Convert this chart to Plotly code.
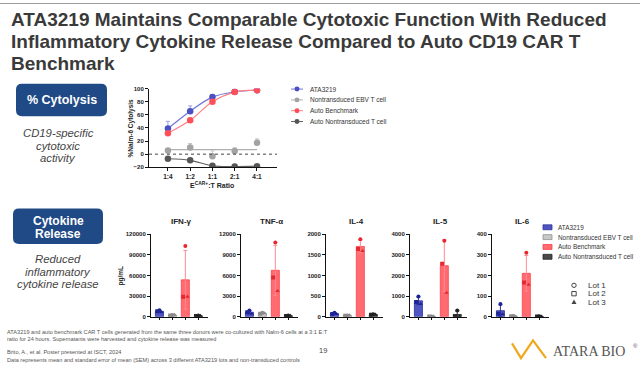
import plotly.graph_objects as go
import numpy as np

W, H = 640, 368
def px(x): return x / W
def py(y): return 1 - y / H

FONT = "Liberation Sans, Arial, sans-serif"

# ---------------- data ----------------
ratios = ["1:4", "1:2", "1:1", "2:1", "4:1"]
ata_cyto = [39, 65.6, 87, 95, 97.5]
ata_err = [11, 8, 4, 1, 1]
ebv_cyto = [5.6, 10.3, -3, 4.7, 17.3]
ebv_err = [3, 6, 8, 5, 6]
bench_cyto = [32, 51.6, 80, 94.7, 97.5]
bench_err = [0, 0, 0, 1, 1]
nt_cyto = [-7, -9.4, -17.8, -18.8, -18.3]
nt_err = [0, 0, 0, 0, 0]

groups = ["ATA3219", "Nontransduced EBV T cell", "Auto Benchmark", "Auto Nontransduced T cell"]
cytokines = ["IFN-γ", "TNF-α", "IL-4", "IL-5", "IL-6"]
lots = ["Lot 1", "Lot 2", "Lot 3"]
ifn_lots = [[9500, 8000, 6500], [2500, 2000, 3000], [103000, 29000, 29000], [1800, 1200, 1500]]
tnf_lots = [[900, 650, 450], [600, 450, 500], [10800, 5700, 3760], [200, 100, 150]]
il4_lots = [[100, 70, 65], [30, 25, 35], [1880, 1640, 1590], [60, 50, 55]]
il5_lots = [[980, 720, 620], [20, 15, 25], [3680, 2570, 1170], [310, 20, 10]]
il6_lots = [[62, 15, 12], [4, 3, 2], [310, 166, 155], [3, 2, 2]]
cyto_data = [ifn_lots, tnf_lots, il4_lots, il5_lots, il6_lots]
y_max = [120000, 12000, 2000, 4000, 400]
y_step = [30000, 3000, 500, 1000, 100]

# ---------------- styles ----------------
line_cols = ["#7074d8", "#b0b0b0", "#ff8087", "#606060"]
mark_cols = ["#4b4fc4", "#a3a3a3", "#ff4f58", "#555555"]
err_cols = ["#9a9de6", "#c4c4c4", "#ffa0a5", "#888888"]
bar_fill = ["#4f56c2", "#c8c8c8", "#ff6b70", "#4a4a4a"]
bar_line = ["#2b309a", "#909090", "#ff4048", "#222222"]
bar_err = ["#2b309a", "#a0a0a0", "#ff8a90", "#333333"]
pt_cols = ["#1d2596", "#8a8a8a", "#e8262f", "#222222"]
lot_symbols = ["circle", "square", "triangle-up"]
lot_offsets = [0.0, -0.17, 0.17]

fig = go.Figure()

# ---------------- cytolysis chart ----------------
xs = list(range(len(ratios)))
series = [ata_cyto, ebv_cyto, bench_cyto, nt_cyto]
errs = [ata_err, ebv_err, bench_err, nt_err]
for i, (vals, er) in enumerate(zip(series, errs)):
    if i == 1:
        m = float(np.mean(vals))
        fig.add_trace(go.Scatter(x=[xs[0], xs[-1]], y=[m, m], mode="lines",
                                 line=dict(color=line_cols[i], width=1.2),
                                 xaxis="x", yaxis="y", showlegend=False))
    else:
        fig.add_trace(go.Scatter(x=xs, y=vals, mode="lines",
                                 line=dict(color=line_cols[i], width=1.2, shape="spline"),
                                 xaxis="x", yaxis="y", showlegend=False))
for i, (vals, er) in enumerate(zip(series, errs)):
    fig.add_trace(go.Scatter(x=xs, y=vals, mode="markers",
                             marker=dict(color=mark_cols[i], size=6.5),
                             error_y=dict(type="data", symmetric=False, array=er,
                                          arrayminus=[0] * len(er), color=err_cols[i],
                                          thickness=1, width=2),
                             xaxis="x", yaxis="y", showlegend=False))

axis_common = dict(showgrid=False, zeroline=False, showline=True, linecolor="#111",
                   linewidth=1, ticks="outside", ticklen=3, tickwidth=1, tickcolor="#111")

layout = dict(
    width=W, height=H, margin=dict(l=0, r=0, t=0, b=0),
    paper_bgcolor="white", plot_bgcolor="white", showlegend=False,
    font=dict(family=FONT, color="#222"),
    xaxis=dict(domain=[px(149), px(277)], range=[-0.85, 4.9], tickvals=xs, ticktext=ratios,
               tickfont=dict(size=6.5, family=FONT, weight="bold", color="#222"),
               anchor="y", **axis_common),
    yaxis=dict(domain=[py(167), py(87)], range=[-20, 100], tickvals=list(range(-20, 101, 20)),
               tickfont=dict(size=6, family=FONT, weight="bold", color="#222"),
               anchor="x", **axis_common),
)

# ---------------- cytokine charts ----------------
x0s = [151, 241, 326, 410, 492]
cat_x = np.arange(len(groups))
for k, (name, data) in enumerate(zip(cytokines, cyto_data)):
    n = k + 2
    xa, ya = f"x{n}", f"y{n}"
    means = [float(np.mean(g)) for g in data]
    sds = [float(np.std(g, ddof=1)) for g in data]
    fig.add_trace(go.Bar(x=cat_x, y=means, width=0.62,
                         marker=dict(color=bar_fill, line=dict(color=bar_line, width=0.8)),
                         xaxis=xa, yaxis=ya, showlegend=False))
    for g in range(len(groups)):
        fig.add_trace(go.Scatter(x=[cat_x[g]], y=[means[g]], mode="markers",
                                 marker=dict(size=1, color="rgba(0,0,0,0)"),
                                 error_y=dict(type="data", array=[sds[g]], color=bar_err[g],
                                              thickness=1, width=2),
                                 xaxis=xa, yaxis=ya, showlegend=False))
    for li in range(len(lots)):
        fig.add_trace(go.Scatter(
            x=[cat_x[g] + lot_offsets[li] for g in range(len(groups))],
            y=[data[g][li] for g in range(len(groups))],
            mode="markers",
            marker=dict(symbol=lot_symbols[li], size=4, color=pt_cols),
            xaxis=xa, yaxis=ya, showlegend=False))
    layout[f"xaxis{n}"] = dict(domain=[px(x0s[k]), px(x0s[k] + 57)], range=[-0.65, 3.75],
                              tickvals=list(cat_x), showticklabels=False, anchor=ya,
                              **{**axis_common, "ticklen": 2})
    layout[f"yaxis{n}"] = dict(domain=[py(319), py(235)], range=[0, y_max[k]],
                              tickvals=list(range(0, y_max[k] + 1, y_step[k])), tickformat="d",
                              tickfont=dict(size=6, family=FONT, weight="bold", color="#222"),
                              anchor=xa, **axis_common)

fig.update_layout(**layout)

# ---------------- decorations ----------------
shapes = []
ann = []

def roundrect(x0, y0, x1, y1, r, color):
    rx, ry = r / W, r / H
    X0, X1, Y0, Y1 = px(x0), px(x1), py(y1), py(y0)
    path = (f"M {X0+rx},{Y0} L {X1-rx},{Y0} Q {X1},{Y0} {X1},{Y0+ry} "
            f"L {X1},{Y1-ry} Q {X1},{Y1} {X1-rx},{Y1} L {X0+rx},{Y1} "
            f"Q {X0},{Y1} {X0},{Y1-ry} L {X0},{Y0+ry} Q {X0},{Y0} {X0+rx},{Y0} Z")
    return dict(type="path", xref="paper", yref="paper", path=path,
                fillcolor=color, line=dict(width=0), layer="below")

def text(x, y, s, size, color="#333", xanchor="left", bold=False, italic=False, angle=0, family=FONT):
    ann.append(dict(x=px(x), y=py(y), xref="paper", yref="paper", text=s, showarrow=False,
                    xanchor=xanchor, yanchor="middle", textangle=angle,
                    font=dict(size=size, color=color, family=family,
                              weight="bold" if bold else "normal",
                              style="italic" if italic else "normal")))

# top rule
shapes.append(dict(type="line", xref="paper", yref="paper", x0=0, x1=1, y0=py(0.5), y1=py(0.5),
                   line=dict(color="#9a9a9a", width=1)))

# title
text(9, 17, "ATA3219 Maintains Comparable Cytotoxic Function With Reduced", 19, "#3a3a3a", bold=True)
text(9, 39, "Inflammatory Cytokine Release Compared to Auto CD19 CAR T", 19, "#3a3a3a", bold=True)
text(9, 61, "Benchmark", 19, "#3a3a3a", bold=True)

# left boxes
NAVY = "#1f4a86"
shapes.append(roundrect(16, 82, 107, 115, 6, NAVY))
text(61.5, 98.5, "% Cytolysis", 12.5, "white", "center", bold=True)
text(58, 132, "CD19-specific", 11.3, "#444", "center", italic=True)
text(58, 145, "cytotoxic", 11.3, "#444", "center", italic=True)
text(58, 158, "activity", 11.3, "#444", "center", italic=True)

shapes.append(roundrect(13, 209, 103, 245, 6, NAVY))
text(58, 221.5, "Cytokine", 12, "white", "center", bold=True)
text(58, 234.5, "Release", 12, "white", "center", bold=True)
text(58, 260, "Reduced", 11.3, "#444", "center", italic=True)
text(58, 273, "inflammatory", 11.3, "#444", "center", italic=True)
text(58, 286, "cytokine release", 11.3, "#444", "center", italic=True)

# cytolysis labels
shapes.append(dict(type="line", xref="x domain", yref="y", x0=0, x1=1, y0=0, y1=0,
                   line=dict(color="#444", width=1, dash="dot")))
text(212, 185.5, "E<sup>CAR+</sup>:T Ratio", 7, "#222", "center", bold=True)
text(130.5, 127, "%Nalm-6 Cytolysis", 6.5, "#222", "center", bold=True, angle=-90)

# cytolysis legend
leg_y = [87.5, 98.5, 109.5, 120.5]
for i, g in enumerate(groups):
    shapes.append(dict(type="line", xref="paper", yref="paper", x0=px(291), x1=px(303),
                       y0=py(leg_y[i]), y1=py(leg_y[i]), line=dict(color=line_cols[i], width=1)))
    shapes.append(dict(type="circle", xref="paper", yref="paper", x0=px(294.5), x1=px(299.5),
                       y0=py(leg_y[i] + 2.5), y1=py(leg_y[i] - 2.5),
                       fillcolor=mark_cols[i], line=dict(width=0)))
    text(308, leg_y[i], g, 6.5, "#333")

# cytokine titles
for k, name in enumerate(cytokines):
    text(x0s[k] + 30, 222, name, 8, "#222", "center", bold=True)
text(121, 277, "pg/mL", 6.5, "#222", "center", bold=True, angle=-90)

# cytokine legend
cl_y = [228, 238, 248, 258]
for i, g in enumerate(groups):
    shapes.append(dict(type="rect", xref="paper", yref="paper", x0=px(543), x1=px(552),
                       y0=py(cl_y[i] + 2.5), y1=py(cl_y[i] - 2.5),
                       fillcolor=bar_fill[i], line=dict(color=bar_line[i], width=0.8)))
    text(556, cl_y[i], g, 6.4, "#333")

ll_y = [287, 295.5, 304]
sx = 574
shapes.append(dict(type="circle", xref="paper", yref="paper", x0=px(sx - 2.2), x1=px(sx + 2.2),
                   y0=py(ll_y[0] + 2.2), y1=py(ll_y[0] - 2.2), line=dict(color="#444", width=1)))
shapes.append(dict(type="rect", xref="paper", yref="paper", x0=px(sx - 2.2), x1=px(sx + 2.2),
                   y0=py(ll_y[1] + 2.2), y1=py(ll_y[1] - 2.2), line=dict(color="#444", width=1)))
shapes.append(dict(type="path", xref="paper", yref="paper",
                   path=f"M {px(sx-2.5)},{py(ll_y[2]+2)} L {px(sx+2.5)},{py(ll_y[2]+2)} L {px(sx)},{py(ll_y[2]-2.5)} Z",
                   fillcolor="#444", line=dict(width=0)))
for i, l in enumerate(lots):
    text(586, ll_y[i], l, 8, "#333")

# footer
FC = "#555"
text(5, 334, "ATA3219 and auto benchmark CAR T cells generated from the same three donors were co-cultured with Nalm-6 cells at a 3:1 E:T", 5.6, FC)
text(5, 342, "ratio for 24 hours. Supernatants were harvested and cytokine release was measured", 5.6, FC)
text(5, 355, "Brito, A., et al. Poster presented at ISCT, 2024", 5.6, FC)
text(5, 362.5, "Data represents mean and standard error of mean (SEM) across 3 different ATA3219 lots and non-transduced controls", 5.6, FC)
text(323, 353, "19", 7.5, "#444", "center")

# logo
shapes.append(dict(type="path", xref="paper", yref="paper",
                   path=(f"M {px(512)},{py(346)} L {px(521)},{py(361)} L {px(533)},{py(343)} "
                         f"L {px(546)},{py(361)}"),
                   line=dict(color="#f0a81c", width=2.2)))
text(551, 354, "ATARA BIO", 14, "#555", family="Liberation Serif, Times New Roman, serif")
text(631, 349, "®", 6, "#555")

fig.update_layout(shapes=shapes, annotations=ann)
fig.write_html("out.html")
